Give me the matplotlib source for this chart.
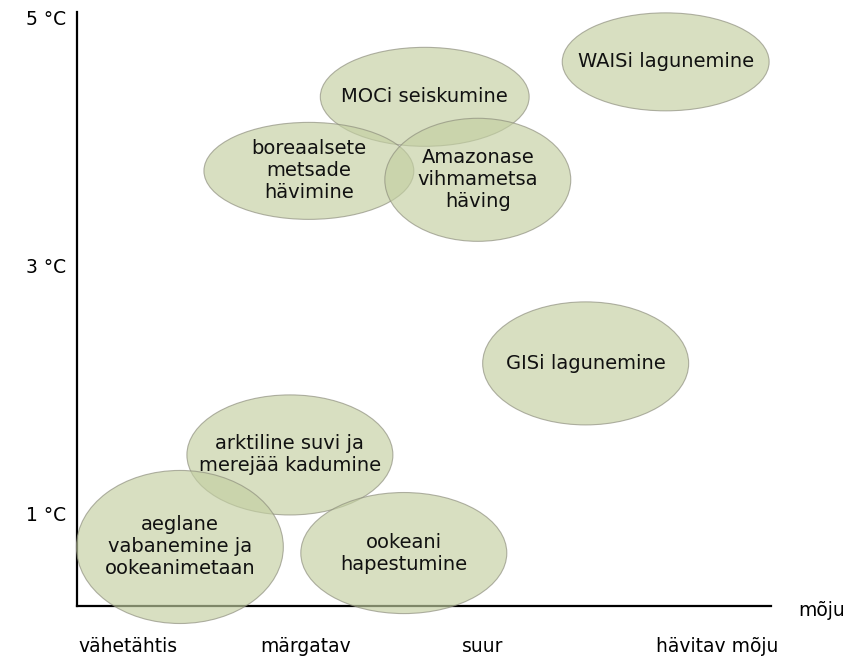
import matplotlib.pyplot as plt
from matplotlib.patches import Ellipse

# tipping elements: label, impact position (x), warming (y, °C), ellipse size
labels = [
    "WAISi lagunemine",
    "MOCi seiskumine",
    "boreaalsete\nmetsade\nhävimine",
    "Amazonase\nvihmametsa\nhäving",
    "GISi lagunemine",
    "arktiline suvi ja\nmerejää kadumine",
    "aeglane\nvabanemine ja\nookeanimetaan",
    "ookeani\nhapestumine",
]
x_pos = [3.031, 1.673, 1.020, 1.972, 2.580, 0.913, 0.293, 1.555]
y_pos = [4.645, 4.363, 3.766, 3.694, 2.214, 1.476, 0.734, 0.685]
widths = [1.166, 1.177, 1.183, 1.048, 1.161, 1.161, 1.166, 1.161]
heights = [0.790, 0.798, 0.782, 0.992, 0.992, 0.968, 1.234, 0.976]

x_ticks = [0, 1, 2, 3.32]
x_labels = ["vähetähtis", "märgatav", "suur", "hävitav mõju"]
y_ticks = [1, 3, 5]
y_labels = ["1 °C", "3 °C", "5 °C"]

fig = plt.figure(figsize=(8.65, 6.59), dpi=100)
ax = fig.add_axes([0.089, 0.0804, 0.802, 0.9016])
ax.set_xlim(-0.287, 3.623)
ax.set_ylim(0.258, 5.048)

for lab, x, y, w, h in zip(labels, x_pos, y_pos, widths, heights):
    e = Ellipse((x, y), w, h, facecolor=(0.765, 0.81, 0.63), alpha=0.65,
                edgecolor="#8a8a7a", linewidth=0.8, clip_on=False)
    ax.add_patch(e)
    ax.text(x, y, lab, ha="center", va="center", fontsize=14,
            linespacing=1.2, color="#111111")

for s in ["top", "right"]:
    ax.spines[s].set_visible(False)
for s in ["left", "bottom"]:
    ax.spines[s].set_linewidth(1.6)
    ax.spines[s].set_zorder(0.5)

ax.set_xticks(x_ticks)
ax.set_xticklabels(x_labels, fontsize=13.5)
ax.set_yticks(y_ticks)
ax.set_yticklabels(y_labels, fontsize=13.5)
ax.tick_params(axis="x", length=0, pad=22)
ax.tick_params(axis="y", length=0, pad=8)

ax.text(1.039, -0.007, "mõju", transform=ax.transAxes, ha="left", va="center",
        fontsize=13.5)

fig.savefig("out.png", dpi=100)
